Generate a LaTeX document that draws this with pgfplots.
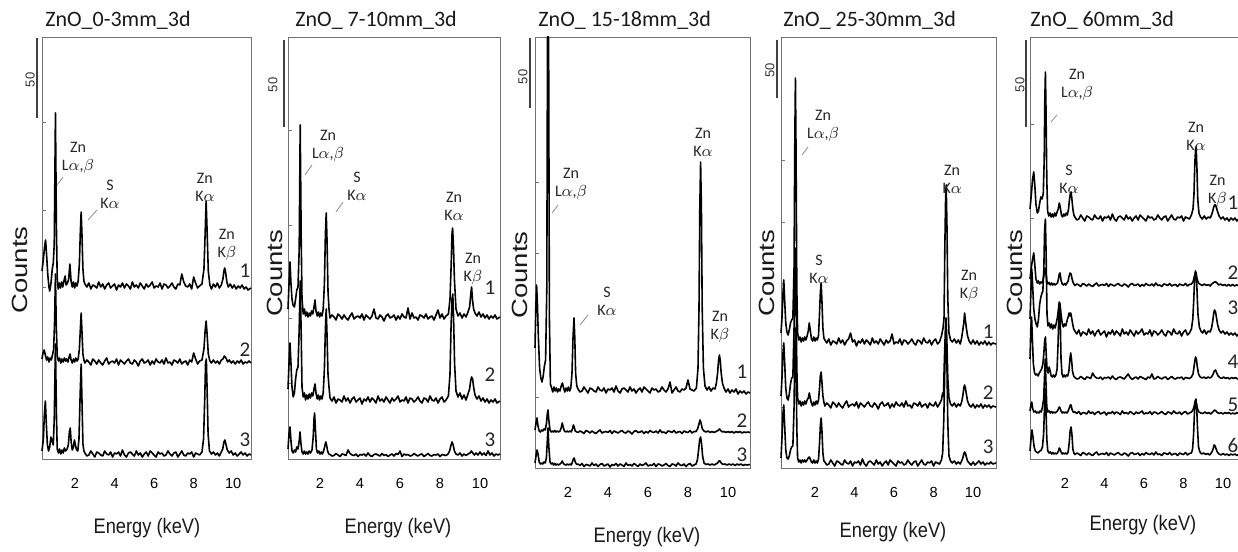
\documentclass[border=0pt]{standalone}
\usepackage{graphicx}
\usepackage{pgfplots}
\pgfplotsset{compat=1.18}
\usepackage{fontspec}
\setmainfont{Carlito}
\newfontfamily\arial{Liberation Sans}
\pgfplotsset{
  spec/.style={
    scale only axis, clip=false, ymin=0,
    axis line style={black!55, line width=0.45pt},
    xtick={2,4,6,8,10},
    xtick style={draw=none},
    ytick pos=left, tick align=inside,
    ytick style={black!55, line width=0.45pt},
    major tick length=2.2pt,
    yticklabels={},
    /pgf/number format/assume math mode=true,
    xticklabel style={font=\arial\fontsize{7.3}{8}\selectfont, yshift=-6pt, text=black},
  },
  tr/.style={black, line width=0.8pt, line join=round},
}
\tikzset{
  lab/.style={font=\fontsize{8}{9}\selectfont, align=center, text=black!85, inner sep=0pt},
  num/.style={font=\fontsize{10.5}{12}\selectfont, text=black!85, inner sep=0pt},
  sbar/.style={black!75, line width=1pt},
  ptr/.style={black!45, line width=0.4pt},
  fifty/.style={rotate=90, font=\arial\fontsize{6.5}{7}\selectfont, text=black!80},
  ttl/.style={anchor=west, font=\fontsize{11}{13}\selectfont, text=black!90, inner sep=0pt},
  cnt/.style={rotate=90, font=\arial\fontsize{11}{13}\selectfont, text=black!90, inner sep=0pt},
  enl/.style={font=\arial\fontsize{10.5}{12}\selectfont, text=black!90, inner sep=0pt},
}
\begin{document}
\begin{tikzpicture}
% ---------------- Panel 1 ----------------
\begin{axis}[spec, at={(21pt,46.5pt)}, anchor=south west, width=104.5pt, height=211pt,
  xmin=0.33, xmax=10.9, ymax=422, ytick={172,249,337}]
\addplot[tr] coordinates {(0.33,188)(0.40,200)(0.46,212)(0.51,219)(0.56,205)(0.62,185)(0.68,172)(0.72,168)(0.78,175)(0.85,190)(0.9,196)(0.95,215)(1.01,346)(1.06,230)(1.1,180)(1.15,170)(1.2,176)(1.26,171)(1.32,177)(1.38,172)(1.44,178)(1.5,183)(1.55,174)(1.62,176)(1.68,180)(1.74,195)(1.8,178)(1.86,172)(1.92,177)(1.98,171)(2.04,176)(2.1,173)(2.16,178)(2.22,195)(2.27,228)(2.31,247)(2.35,225)(2.4,190)(2.45,178)
(2.5,175)(2.6,172)(2.7,176)(2.8,170)(2.9,174)(3.0,173)(3.1,171)(3.2,177)(3.3,172)(3.4,175)(3.5,170)(3.6,174)(3.7,176)(3.8,171)(3.9,173)(4.0,175)(4.1,169)(4.2,174)(4.3,172)(4.4,176)(4.5,171)(4.6,175)(4.7,173)(4.8,170)(4.9,177)(5.0,172)(5.1,174)(5.2,171)(5.3,176)(5.4,173)(5.5,170)(5.6,175)(5.7,172)(5.8,174)(5.9,177)(6.0,171)(6.1,173)(6.2,172)(6.3,176)(6.4,170)(6.5,175)(6.6,174)(6.7,171)(6.8,173)(6.9,176)(7.0,172)(7.1,170)(7.2,175)(7.3,174)(7.4,185)(7.5,177)(7.6,173)(7.7,172)(7.8,175)(7.9,170)(8.0,182)(8.1,176)(8.2,171)(8.3,173)
(8.42,175)(8.52,190)(8.58,225)(8.63,258)(8.68,228)(8.74,188)(8.82,174)(8.9,170)(9.0,175)(9.1,172)(9.2,176)(9.3,171)(9.4,174)(9.48,180)(9.53,188)(9.57,191)(9.62,186)(9.68,177)(9.75,172)(9.85,175)(9.95,171)(10.05,174)(10.15,170)(10.25,173)(10.35,171)(10.45,174)(10.55,170)(10.65,172)(10.75,169)(10.9,171)};
\addplot[tr] coordinates {(0.33,100)(0.38,106)(0.44,109)(0.5,104)(0.56,99)(0.62,102)(0.68,97)(0.74,101)(0.8,99)(0.86,104)(0.92,110)(0.97,140)(1.01,185)(1.05,135)(1.1,103)(1.16,98)(1.22,101)(1.28,96)(1.34,100)(1.4,97)(1.46,101)(1.52,98)(1.58,100)(1.64,97)(1.7,102)(1.75,105)(1.8,99)(1.86,96)(1.92,100)(1.98,97)(2.04,101)(2.1,98)(2.16,100)(2.22,110)(2.27,130)(2.31,146)(2.35,128)(2.4,105)(2.45,99)
(2.5,96)(2.6,99)(2.7,97)(2.8,94)(2.9,100)(3.0,98)(3.1,95)(3.2,99)(3.3,96)(3.4,94)(3.5,98)(3.6,101)(3.7,95)(3.8,97)(3.9,98)(4.0,96)(4.1,100)(4.2,94)(4.3,99)(4.4,97)(4.5,95)(4.6,98)(4.7,100)(4.8,96)(4.9,95)(5.0,99)(5.1,97)(5.2,93)(5.3,98)(5.4,100)(5.5,96)(5.6,97)(5.7,99)(5.8,94)(5.9,98)(6.0,95)(6.1,100)(6.2,97)(6.3,96)(6.4,99)(6.5,95)(6.6,101)(6.7,96)(6.8,97)(6.9,94)(7.0,99)(7.1,98)(7.2,96)(7.3,100)(7.4,95)(7.5,97)(7.6,98)(7.7,94)(7.8,99)(7.9,97)(8.0,106)(8.1,100)(8.2,95)(8.3,98)
(8.42,99)(8.52,110)(8.58,128)(8.63,138)(8.68,125)(8.74,105)(8.82,98)(8.9,96)(9.0,99)(9.1,96)(9.2,98)(9.3,95)(9.4,99)(9.48,100)(9.55,103)(9.6,102)(9.66,100)(9.72,97)(9.8,99)(9.9,96)(10.0,98)(10.1,95)(10.2,98)(10.3,96)(10.4,99)(10.5,95)(10.6,97)(10.7,96)(10.8,98)(10.9,96)};
\addplot[tr] coordinates {(0.33,8)(0.4,20)(0.45,45)(0.5,58)(0.55,35)(0.6,15)(0.66,8)(0.72,12)(0.78,22)(0.84,18)(0.9,14)(0.95,40)(1.01,115)(1.06,45)(1.1,10)(1.16,6)(1.22,10)(1.28,5)(1.34,9)(1.4,6)(1.46,11)(1.52,8)(1.6,10)(1.66,14)(1.72,28)(1.76,31)(1.8,18)(1.86,9)(1.92,12)(1.97,19)(2.02,14)(2.08,9)(2.14,8)(2.2,20)(2.26,65)(2.31,95)(2.35,60)(2.4,15)(2.45,8)
(2.5,6)(2.6,3)(2.7,4)(2.8,8)(2.9,5)(3.0,2)(3.1,7)(3.2,6)(3.3,4)(3.4,3)(3.5,8)(3.6,5)(3.7,4)(3.8,7)(3.9,2)(4.0,6)(4.1,5)(4.2,7)(4.3,3)(4.4,9)(4.5,4)(4.6,2)(4.7,6)(4.8,7)(4.9,5)(5.0,3)(5.1,8)(5.2,4)(5.3,6)(5.4,2)(5.5,5)(5.6,7)(5.7,3)(5.8,8)(5.9,6)(6.0,4)(6.1,2)(6.2,7)(6.3,5)(6.4,6)(6.5,3)(6.6,4)(6.7,8)(6.8,5)(6.9,3)(7.0,6)(7.1,7)(7.2,2)(7.3,5)(7.4,8)(7.5,4)(7.6,3)(7.7,6)(7.8,5)(7.9,7)(8.0,2)(8.1,6)(8.2,5)(8.3,4)
(8.42,7)(8.5,20)(8.56,60)(8.6,95)(8.64,100)(8.68,70)(8.73,25)(8.8,8)(8.9,5)(9.0,7)(9.1,4)(9.2,6)(9.3,3)(9.4,7)(9.47,10)(9.53,17)(9.58,19)(9.64,14)(9.7,9)(9.8,6)(9.9,8)(10.0,4)(10.1,6)(10.2,3)(10.3,5)(10.4,7)(10.5,4)(10.6,6)(10.7,3)(10.8,5)(10.9,4)};
\draw[sbar] (axis cs:0.07,341) -- (axis cs:0.07,421);
\node[fifty] at (axis cs:-0.27,379) {50};
\node[ttl] at (rel axis cs:0.014,1.04) {ZnO\_0-3mm\_3d};
\node[cnt] at (rel axis cs:-0.105,0.448) {\scalebox{1.25}[1]{Counts}};
\node[enl] at (rel axis cs:0.502,-0.164) {\scalebox{0.87}[1]{Energy (keV)}};
\node[lab] at (axis cs:2.15,301) {Zn\\L$\alpha$,$\beta$};
\draw[ptr] (axis cs:1.09,274) -- (axis cs:1.40,282);
\node[lab] at (axis cs:3.77,265) {S\\K$\alpha$};
\draw[ptr] (axis cs:2.66,239) -- (axis cs:3.11,249);
\node[lab] at (axis cs:8.57,272) {Zn\\K$\alpha$};
\node[lab] at (axis cs:9.68,214) {Zn\\K$\beta$};
\node[num] at (axis cs:10.59,188) {1};
\node[num] at (axis cs:10.59,109) {2};
\node[num] at (axis cs:10.59,19) {3};
\end{axis}
% ---------------- Panel 2 ----------------
\begin{axis}[spec, at={(144pt,46.5pt)}, anchor=south west, width=106pt, height=211pt,
  xmin=0.4, xmax=11.0, ymax=422, ytick={76,141,234,329}]
\addplot[tr] coordinates {(0.4,150)(0.45,175)(0.5,197)(0.55,175)(0.6,160)(0.65,154)(0.72,152)(0.78,160)(0.84,169)(0.9,172)(0.96,210)(1.01,334)(1.06,220)(1.1,160)(1.16,145)(1.22,150)(1.28,143)(1.34,147)(1.4,142)(1.46,146)(1.52,143)(1.58,148)(1.64,145)(1.7,152)(1.75,159)(1.8,148)(1.86,143)(1.92,147)(1.98,142)(2.04,146)(2.1,143)(2.16,150)(2.22,175)(2.27,225)(2.31,246)(2.35,220)(2.4,168)(2.45,150)
(2.5,141)(2.6,144)(2.7,142)(2.8,139)(2.9,145)(3.0,143)(3.1,140)(3.2,144)(3.3,141)(3.4,139)(3.5,143)(3.6,146)(3.7,140)(3.8,142)(3.9,143)(4.0,141)(4.1,145)(4.2,139)(4.3,144)(4.4,142)(4.5,140)(4.6,143)(4.7,150)(4.8,141)(4.9,140)(5.0,144)(5.1,142)(5.2,138)(5.3,143)(5.4,145)(5.5,141)(5.6,142)(5.7,144)(5.8,139)(5.9,143)(6.0,140)(6.1,145)(6.2,142)(6.3,141)(6.4,151)(6.5,140)(6.6,146)(6.7,141)(6.8,142)(6.9,139)(7.0,144)(7.1,143)(7.2,141)(7.3,145)(7.4,140)(7.5,142)(7.6,143)(7.7,139)(7.8,144)(7.9,149)(8.0,141)(8.1,145)(8.2,140)(8.3,143)
(8.42,145)(8.5,160)(8.56,195)(8.6,225)(8.63,231)(8.67,215)(8.72,180)(8.8,150)(8.9,143)(9.0,146)(9.1,141)(9.2,145)(9.3,142)(9.4,147)(9.48,152)(9.54,165)(9.58,172)(9.62,160)(9.68,150)(9.75,146)(9.85,143)(9.95,147)(10.05,142)(10.15,145)(10.25,141)(10.35,144)(10.45,140)(10.55,143)(10.65,141)(10.75,144)(10.85,140)(11.0,142)};
\addplot[tr] coordinates {(0.4,70)(0.45,95)(0.5,116)(0.55,95)(0.6,72)(0.66,62)(0.72,66)(0.78,80)(0.84,89)(0.9,92)(0.96,130)(1.01,178)(1.06,125)(1.1,72)(1.16,62)(1.22,66)(1.28,59)(1.34,64)(1.4,60)(1.46,65)(1.52,61)(1.58,66)(1.64,63)(1.7,70)(1.75,75)(1.8,66)(1.86,60)(1.92,64)(1.98,59)(2.04,63)(2.1,60)(2.16,66)(2.22,90)(2.27,130)(2.31,150)(2.35,125)(2.4,85)(2.45,72)
(2.5,61)(2.6,58)(2.7,62)(2.8,56)(2.9,60)(3.0,59)(3.1,57)(3.2,63)(3.3,58)(3.4,61)(3.5,56)(3.6,60)(3.7,62)(3.8,57)(3.9,59)(4.0,61)(4.1,55)(4.2,60)(4.3,58)(4.4,62)(4.5,57)(4.6,61)(4.7,59)(4.8,56)(4.9,63)(5.0,58)(5.1,60)(5.2,57)(5.3,62)(5.4,59)(5.5,56)(5.6,61)(5.7,58)(5.8,60)(5.9,63)(6.0,57)(6.1,59)(6.2,58)(6.3,62)(6.4,56)(6.5,61)(6.6,60)(6.7,57)(6.8,59)(6.9,62)(7.0,58)(7.1,56)(7.2,61)(7.3,60)(7.4,57)(7.5,63)(7.6,59)(7.7,58)(7.8,61)(7.9,56)(8.0,60)(8.1,62)(8.2,57)(8.3,59)
(8.42,63)(8.5,85)(8.55,130)(8.6,160)(8.64,165)(8.68,140)(8.73,95)(8.8,68)(8.9,62)(9.0,66)(9.1,60)(9.2,64)(9.3,59)(9.4,65)(9.48,70)(9.53,78)(9.58,82)(9.63,80)(9.68,72)(9.75,64)(9.85,60)(9.95,63)(10.05,58)(10.15,61)(10.25,57)(10.35,60)(10.45,56)(10.55,59)(10.65,57)(10.75,60)(10.85,56)(11.0,58)};
\addplot[tr] coordinates {(0.4,10)(0.45,25)(0.5,32)(0.55,18)(0.6,8)(0.66,6)(0.72,9)(0.78,7)(0.84,12)(0.9,10)(0.96,18)(1.0,27)(1.05,15)(1.1,7)(1.16,5)(1.22,8)(1.28,5)(1.34,7)(1.4,5)(1.46,8)(1.52,6)(1.6,9)(1.66,22)(1.7,40)(1.73,46)(1.77,30)(1.82,10)(1.88,6)(1.94,8)(2.0,5)(2.06,7)(2.12,5)(2.18,8)(2.24,13)(2.29,17)(2.33,14)(2.38,8)(2.44,5)
(2.5,4.5)(2.6,3)(2.7,3.5)(2.8,5.5)(2.9,4)(3.0,2.5)(3.1,5)(3.2,4.5)(3.3,3.5)(3.4,9)(3.5,5.5)(3.6,4)(3.7,3.5)(3.8,5)(3.9,2.5)(4.0,4.5)(4.1,4)(4.2,5)(4.3,3)(4.4,6)(4.5,3.5)(4.6,2.5)(4.7,4.5)(4.8,5)(4.9,4)(5.0,3)(5.1,5.5)(5.2,3.5)(5.3,4.5)(5.4,2.5)(5.5,4)(5.6,5)(5.7,3)(5.8,5.5)(5.9,4.5)(6.0,8)(6.1,2.5)(6.2,5)(6.3,4)(6.4,4.5)(6.5,3)(6.6,3.5)(6.7,5.5)(6.8,4)(6.9,3)(7.0,4.5)(7.1,5)(7.2,2.5)(7.3,4)(7.4,5.5)(7.5,3.5)(7.6,3)(7.7,4.5)(7.8,4)(7.9,5)(8.0,2.5)(8.1,4.5)(8.2,4)(8.3,3.5)
(8.4,5)(8.48,8)(8.54,13)(8.6,17)(8.66,14)(8.72,8)(8.8,5)(8.9,4)(9.0,6)(9.1,3)(9.2,5)(9.3,3.5)(9.4,5)(9.5,6)(9.57,8)(9.64,6)(9.72,4)(9.8,6)(9.9,4)(10.0,7)(10.1,4)(10.2,6)(10.3,3.5)(10.4,8)(10.5,4)(10.6,6)(10.7,3)(10.8,5)(10.9,4)(11.0,5)};
\draw[sbar] (axis cs:0.215,332) -- (axis cs:0.215,419);
\node[fifty] at (axis cs:-0.35,374) {50};
\node[ttl] at (rel axis cs:0.033,1.04) {ZnO\_ 7-10mm\_3d};
\node[cnt] at (rel axis cs:-0.061,0.44) {\scalebox{1.25}[1]{Counts}};
\node[enl] at (rel axis cs:0.519,-0.164) {\scalebox{0.87}[1]{Energy (keV)}};
\node[lab] at (axis cs:2.4,313) {Zn\\L$\alpha$,$\beta$};
\draw[ptr] (axis cs:1.25,284) -- (axis cs:1.6,294);
\node[lab] at (axis cs:3.85,273) {S\\K$\alpha$};
\draw[ptr] (axis cs:2.8,247) -- (axis cs:3.15,257);
\node[lab] at (axis cs:8.7,253) {Zn\\K$\alpha$};
\node[lab] at (axis cs:9.65,190) {Zn\\K$\beta$};
\node[num] at (axis cs:10.5,171) {1};
\node[num] at (axis cs:10.5,84) {2};
\node[num] at (axis cs:10.5,19) {3};
\end{axis}
% ---------------- Panel 3 ----------------
\begin{axis}[spec, at={(267.5pt,42pt)}, anchor=south west, width=107.5pt, height=215.5pt,
  xmin=0.35, xmax=11.1, ymax=431, ytick={71,143,215,286}]
\addplot[tr] coordinates {(0.35,120)(0.39,160)(0.43,183)(0.47,165)(0.52,130)(0.58,100)(0.64,90)(0.7,86)(0.76,92)(0.82,102)(0.88,108)(0.94,180)(0.975,431)(1.0,431)(1.03,431)(1.07,150)(1.12,84)(1.18,80)(1.24,76)(1.3,81)(1.36,77)(1.42,80)(1.48,76)(1.54,79)(1.6,77)(1.66,82)(1.72,85)(1.78,80)(1.84,76)(1.9,80)(1.96,77)(2.02,81)(2.08,77)(2.14,80)(2.2,95)(2.25,130)(2.3,150)(2.34,130)(2.38,95)(2.44,82)
(2.5,79)(2.6,76)(2.7,77)(2.8,81)(2.9,78)(3.0,75)(3.1,80)(3.2,79)(3.3,77)(3.4,76)(3.5,81)(3.6,78)(3.7,77)(3.8,80)(3.9,75)(4.0,79)(4.1,78)(4.2,80)(4.3,76)(4.4,82)(4.5,77)(4.6,75)(4.7,79)(4.8,80)(4.9,78)(5.0,76)(5.1,81)(5.2,77)(5.3,79)(5.4,75)(5.5,78)(5.6,80)(5.7,76)(5.8,81)(5.9,79)(6.0,77)(6.1,75)(6.2,80)(6.3,78)(6.4,79)(6.5,76)(6.6,77)(6.7,81)(6.8,78)(6.9,76)(7.0,79)(7.1,86)(7.2,75)(7.3,78)(7.4,81)(7.5,77)(7.6,76)(7.7,79)(7.8,78)(7.9,80)(8.0,88)(8.1,79)(8.2,78)(8.3,77)
(8.42,80)(8.5,100)(8.55,160)(8.59,260)(8.63,306)(8.67,260)(8.71,160)(8.77,100)(8.85,82)(8.95,78)(9.05,81)(9.15,77)(9.25,80)(9.35,79)(9.42,85)(9.48,95)(9.53,108)(9.57,113)(9.61,108)(9.66,95)(9.72,85)(9.8,80)(9.9,76)(10.0,79)(10.1,75)(10.2,78)(10.3,76)(10.4,79)(10.5,74)(10.6,77)(10.7,75)(10.8,77)(10.9,74)(11.0,76)(11.1,75)};
\addplot[tr] coordinates {(0.35,38)(0.4,45)(0.45,50)(0.5,42)(0.56,37)(0.62,36)(0.68,38)(0.74,37)(0.8,39)(0.86,38)(0.92,44)(0.97,55)(1.0,58)(1.04,48)(1.1,38)(1.16,36)(1.22,37)(1.28,36)(1.34,37.5)(1.4,36)(1.46,37)(1.52,36)(1.6,37)(1.66,40)(1.71,45)(1.76,41)(1.82,37)(1.9,36)(1.96,37)(2.02,36)(2.1,37)(2.16,36)(2.22,39)(2.27,43)(2.31,41)(2.36,37)(2.44,36)
(2.5,35.5)(2.6,37)(2.7,36)(2.8,34.5)(2.9,37.5)(3.0,36.5)(3.1,35)(3.2,37)(3.3,35.5)(3.4,34.5)(3.5,36.5)(3.6,38)(3.7,35)(3.8,36)(3.9,36.5)(4.0,35.5)(4.1,37.5)(4.2,34.5)(4.3,37)(4.4,36)(4.5,35)(4.6,36.5)(4.7,37.5)(4.8,35.5)(4.9,35)(5.0,37)(5.1,36)(5.2,34)(5.3,36.5)(5.4,37.5)(5.5,35.5)(5.6,36)(5.7,37)(5.8,34.5)(5.9,36.5)(6.0,35)(6.1,37.5)(6.2,36)(6.3,35.5)(6.4,37)(6.5,35)(6.6,38)(6.7,35.5)(6.8,36)(6.9,34.5)(7.0,37)(7.1,36.5)(7.2,35.5)(7.3,37.5)(7.4,35)(7.5,36)(7.6,36.5)(7.7,34.5)(7.8,37)(7.9,36)(8.0,35.5)(8.1,37.5)(8.2,35)(8.3,36.5)
(8.4,36.5)(8.48,39)(8.55,44)(8.6,48)(8.65,45)(8.72,39)(8.8,37)(8.9,36)(9.0,37)(9.1,35.5)(9.2,36.5)(9.3,35.5)(9.4,36.5)(9.5,37.5)(9.57,39)(9.64,37.5)(9.72,36)(9.8,36.5)(9.9,35.5)(10.0,36.5)(10.1,35.5)(10.2,36.5)(10.3,35)(10.4,36.5)(10.5,35.5)(10.6,36.5)(10.7,35)(10.8,36)(10.9,35.5)(11.0,36)(11.1,35.5)};
\addplot[tr] coordinates {(0.35,5)(0.4,12)(0.45,18)(0.5,14)(0.56,6)(0.62,4)(0.68,5)(0.74,4)(0.8,6)(0.86,5)(0.92,10)(0.96,25)(1.0,40)(1.04,22)(1.1,6)(1.16,4)(1.22,5)(1.28,3)(1.34,4.5)(1.4,3)(1.46,4)(1.52,3)(1.6,4)(1.66,5)(1.71,7)(1.76,5)(1.82,3.5)(1.9,3)(1.96,4)(2.02,3)(2.1,4)(2.16,3)(2.22,6)(2.27,9)(2.31,10)(2.36,6)(2.44,3.5)
(2.5,4)(2.6,2.5)(2.7,4.5)(2.8,1.5)(2.9,3.5)(3.0,3)(3.1,2)(3.2,5)(3.3,2.5)(3.4,4)(3.5,1.5)(3.6,3.5)(3.7,4.5)(3.8,2)(3.9,3)(4.0,4)(4.1,1)(4.2,3.5)(4.3,2.5)(4.4,4.5)(4.5,2)(4.6,4)(4.7,3)(4.8,1.5)(4.9,5)(5.0,2.5)(5.1,3.5)(5.2,2)(5.3,4.5)(5.4,3)(5.5,1.5)(5.6,4)(5.7,2.5)(5.8,3.5)(5.9,5)(6.0,2)(6.1,3)(6.2,2.5)(6.3,4.5)(6.4,1.5)(6.5,4)(6.6,3.5)(6.7,2)(6.8,3)(6.9,4.5)(7.0,2.5)(7.1,1.5)(7.2,4)(7.3,3.5)(7.4,2)(7.5,5)(7.6,3)(7.7,2.5)(7.8,4)(7.9,1.5)(8.0,3.5)(8.1,4.5)(8.2,2)(8.3,3)
(8.4,4)(8.47,8)(8.53,18)(8.58,28)(8.63,31)(8.68,24)(8.73,12)(8.8,5)(8.9,3.5)(9.0,4)(9.1,3)(9.2,4)(9.3,3)(9.4,4)(9.48,5)(9.55,7)(9.6,7)(9.66,5)(9.75,3.5)(9.85,4)(9.95,3)(10.05,4)(10.15,3)(10.25,4)(10.35,2.5)(10.45,4)(10.55,3)(10.65,4)(10.75,2.5)(10.85,3.5)(10.95,3)(11.1,3.5)};
\draw[sbar] (axis cs:0.1,360) -- (axis cs:0.1,430);
\node[fifty] at (axis cs:-0.25,391) {50};
\node[ttl] at (rel axis cs:0.014,1.039) {ZnO\_ 15-18mm\_3d};
\node[cnt] at (rel axis cs:-0.07,0.448) {\scalebox{1.25}[1]{Counts}};
\node[enl] at (rel axis cs:0.521,-0.16) {\scalebox{0.87}[1]{Energy (keV)}};
\node[lab] at (axis cs:2.15,284) {Zn\\L$\alpha$,$\beta$};
\draw[ptr] (axis cs:1.2,255) -- (axis cs:1.5,263);
\node[lab] at (axis cs:3.95,167) {S\\K$\alpha$};
\draw[ptr] (axis cs:2.6,143) -- (axis cs:3.0,153);
\node[lab] at (axis cs:8.75,326) {Zn\\K$\alpha$};
\node[lab] at (axis cs:9.6,141) {Zn\\K$\beta$};
\node[num] at (axis cs:10.7,96) {1};
\node[num] at (axis cs:10.7,47) {2};
\node[num] at (axis cs:10.7,13) {3};
\end{axis}
% ---------------- Panel 4 ----------------
\begin{axis}[spec, at={(390.5pt,42pt)}, anchor=south west, width=107.5pt, height=215.5pt,
  xmin=0.28, xmax=11.16, ymax=431, ytick={61,123,185,246,308}]
\addplot[tr] coordinates {(0.28,135)(0.33,150)(0.38,175)(0.42,188)(0.46,170)(0.52,145)(0.58,136)(0.64,133)(0.7,138)(0.76,145)(0.82,148)(0.88,150)(0.94,200)(0.98,330)(1.01,390)(1.04,320)(1.08,180)(1.12,135)(1.18,128)(1.24,131)(1.3,126)(1.36,130)(1.42,127)(1.48,131)(1.54,128)(1.6,132)(1.66,137)(1.71,145)(1.76,138)(1.82,129)(1.88,127)(1.94,131)(2.0,127)(2.06,130)(2.12,128)(2.18,133)(2.23,155)(2.27,175)(2.31,185)(2.35,168)(2.4,140)(2.45,130)
(2.5,128)(2.6,125)(2.7,129)(2.8,123)(2.9,127)(3.0,126)(3.1,124)(3.2,130)(3.3,125)(3.4,128)(3.5,123)(3.6,127)(3.7,129)(3.8,135)(3.9,126)(4.0,128)(4.1,122)(4.2,127)(4.3,125)(4.4,129)(4.5,124)(4.6,128)(4.7,126)(4.8,123)(4.9,130)(5.0,125)(5.1,127)(5.2,124)(5.3,129)(5.4,126)(5.5,123)(5.6,128)(5.7,125)(5.8,127)(5.9,134)(6.0,124)(6.1,126)(6.2,125)(6.3,129)(6.4,123)(6.5,128)(6.6,127)(6.7,124)(6.8,126)(6.9,129)(7.0,125)(7.1,123)(7.2,128)(7.3,127)(7.4,124)(7.5,130)(7.6,126)(7.7,125)(7.8,128)(7.9,123)(8.0,127)(8.1,129)(8.2,124)(8.3,126)
(8.4,132)(8.48,140)(8.53,150)(8.57,220)(8.61,270)(8.64,283)(8.68,240)(8.72,170)(8.78,135)(8.86,128)(8.95,126)(9.05,129)(9.15,125)(9.25,128)(9.35,124)(9.42,130)(9.48,138)(9.53,145)(9.57,155)(9.61,148)(9.66,140)(9.72,132)(9.8,127)(9.9,124)(10.0,128)(10.1,124)(10.2,127)(10.3,123)(10.4,126)(10.5,124)(10.6,127)(10.7,123)(10.8,126)(10.9,123)(11.0,125)(11.16,124)};
\addplot[tr] coordinates {(0.28,72)(0.33,90)(0.38,115)(0.42,125)(0.46,108)(0.52,80)(0.58,70)(0.64,68)(0.7,74)(0.76,84)(0.82,90)(0.88,91)(0.94,140)(0.98,195)(1.01,220)(1.04,180)(1.08,100)(1.12,70)(1.18,64)(1.24,67)(1.3,62)(1.36,66)(1.42,63)(1.48,67)(1.54,64)(1.6,68)(1.66,70)(1.71,75)(1.76,70)(1.82,65)(1.88,62)(1.94,66)(2.0,63)(2.06,67)(2.12,64)(2.18,68)(2.23,80)(2.27,92)(2.31,96)(2.35,86)(2.4,72)(2.45,66)
(2.5,62)(2.6,65)(2.7,63)(2.8,60)(2.9,66)(3.0,64)(3.1,61)(3.2,65)(3.3,62)(3.4,60)(3.5,64)(3.6,67)(3.7,61)(3.8,63)(3.9,64)(4.0,62)(4.1,66)(4.2,60)(4.3,65)(4.4,63)(4.5,61)(4.6,64)(4.7,66)(4.8,62)(4.9,61)(5.0,65)(5.1,63)(5.2,59)(5.3,64)(5.4,66)(5.5,62)(5.6,63)(5.7,65)(5.8,60)(5.9,64)(6.0,61)(6.1,66)(6.2,63)(6.3,62)(6.4,65)(6.5,61)(6.6,67)(6.7,62)(6.8,63)(6.9,60)(7.0,65)(7.1,64)(7.2,62)(7.3,66)(7.4,61)(7.5,63)(7.6,64)(7.7,60)(7.8,65)(7.9,63)(8.0,62)(8.1,66)(8.2,61)(8.3,64)
(8.4,68)(8.46,75)(8.5,72)(8.55,110)(8.6,140)(8.63,150)(8.67,130)(8.72,90)(8.78,70)(8.86,64)(8.95,62)(9.05,65)(9.15,61)(9.25,64)(9.35,62)(9.42,66)(9.48,72)(9.53,80)(9.57,83)(9.61,80)(9.66,74)(9.72,67)(9.8,63)(9.9,61)(10.0,64)(10.1,60)(10.2,63)(10.3,61)(10.4,64)(10.5,60)(10.6,63)(10.7,61)(10.8,63)(10.9,60)(11.0,62)(11.16,61)};
\addplot[tr] coordinates {(0.28,10)(0.33,30)(0.38,55)(0.42,63)(0.46,45)(0.52,18)(0.58,10)(0.64,9)(0.7,12)(0.76,18)(0.82,21)(0.88,22)(0.94,60)(0.98,120)(1.01,140)(1.04,110)(1.08,40)(1.12,10)(1.18,6)(1.24,8)(1.3,5)(1.36,8)(1.42,6)(1.48,8)(1.54,6)(1.6,8)(1.66,10)(1.71,11)(1.76,9)(1.82,6)(1.88,5)(1.94,8)(2.0,5)(2.06,7)(2.12,5)(2.18,9)(2.23,25)(2.27,42)(2.31,50)(2.35,38)(2.4,15)(2.45,7)
(2.5,6)(2.6,3)(2.7,4)(2.8,8)(2.9,5)(3.0,2)(3.1,7)(3.2,6)(3.3,4)(3.4,3)(3.5,8)(3.6,5)(3.7,4)(3.8,7)(3.9,2)(4.0,6)(4.1,5)(4.2,7)(4.3,3)(4.4,9)(4.5,4)(4.6,2)(4.7,6)(4.8,7)(4.9,5)(5.0,3)(5.1,8)(5.2,4)(5.3,6)(5.4,2)(5.5,5)(5.6,7)(5.7,3)(5.8,8)(5.9,6)(6.0,4)(6.1,2)(6.2,7)(6.3,5)(6.4,6)(6.5,3)(6.6,4)(6.7,8)(6.8,5)(6.9,3)(7.0,6)(7.1,7)(7.2,2)(7.3,5)(7.4,8)(7.5,4)(7.6,3)(7.7,6)(7.8,5)(7.9,7)(8.0,2)(8.1,6)(8.2,5)(8.3,4)
(8.4,8)(8.46,15)(8.52,50)(8.57,100)(8.61,128)(8.64,130)(8.68,100)(8.72,45)(8.78,12)(8.86,7)(8.95,5)(9.05,7)(9.15,4)(9.25,6)(9.35,4)(9.42,7)(9.48,10)(9.53,14)(9.57,16)(9.61,15)(9.66,11)(9.72,7)(9.8,5)(9.9,3)(10.0,6)(10.1,3)(10.2,5)(10.3,7)(10.4,4)(10.5,6)(10.6,3)(10.7,5)(10.8,4)(10.9,6)(11.0,4)(11.16,5)};
\draw[sbar] (axis cs:0.076,370) -- (axis cs:0.076,428);
\node[fifty] at (axis cs:-0.28,398) {50};
\node[ttl] at (rel axis cs:0.009,1.039) {ZnO\_ 25-30mm\_3d};
\node[cnt] at (rel axis cs:-0.065,0.452) {\scalebox{1.25}[1]{Counts}};
\node[enl] at (rel axis cs:0.521,-0.148) {\scalebox{0.87}[1]{Energy (keV)}};
\node[lab] at (axis cs:2.41,342) {Zn\\L$\alpha$,$\beta$};
\draw[ptr] (axis cs:1.34,313) -- (axis cs:1.65,321);
\node[lab] at (axis cs:2.2,199) {S\\K$\alpha$};
\node[lab] at (axis cs:8.94,289) {Zn\\K$\alpha$};
\node[lab] at (axis cs:9.8,182) {Zn\\K$\beta$};
\node[num] at (axis cs:10.76,136) {1};
\node[num] at (axis cs:10.76,75) {2};
\node[num] at (axis cs:10.76,21) {3};
\end{axis}
% ---------------- Panel 5 ----------------
\begin{axis}[spec, at={(515pt,46.5pt)}, anchor=south west, width=106pt, height=211pt,
  xmin=0.23, xmax=10.96, ymax=422, ytick={241,335}]
\addplot[tr] coordinates {(0.23,250)(0.3,265)(0.36,280)(0.42,287)(0.47,275)(0.53,255)(0.6,246)(0.66,248)(0.72,256)(0.78,262)(0.84,260)(0.9,265)(0.95,300)(0.98,360)(1.01,387)(1.04,350)(1.08,280)(1.12,248)(1.18,243)(1.24,246)(1.3,242)(1.36,245)(1.42,242)(1.48,246)(1.54,243)(1.6,247)(1.66,250)(1.71,256)(1.76,252)(1.82,244)(1.88,242)(1.94,245)(2.0,243)(2.06,246)(2.12,244)(2.18,250)(2.23,260)(2.27,265)(2.31,267)(2.35,260)(2.4,250)(2.45,244)
(2.5,242)(2.6,239)(2.7,240)(2.8,244)(2.9,241)(3.0,238)(3.1,243)(3.2,242)(3.3,240)(3.4,239)(3.5,244)(3.6,241)(3.7,240)(3.8,243)(3.9,238)(4.0,242)(4.1,241)(4.2,243)(4.3,239)(4.4,245)(4.5,240)(4.6,238)(4.7,242)(4.8,243)(4.9,241)(5.0,239)(5.1,244)(5.2,240)(5.3,242)(5.4,238)(5.5,241)(5.6,243)(5.7,239)(5.8,244)(5.9,242)(6.0,240)(6.1,238)(6.2,243)(6.3,241)(6.4,242)(6.5,239)(6.6,240)(6.7,244)(6.8,241)(6.9,239)(7.0,242)(7.1,243)(7.2,238)(7.3,241)(7.4,244)(7.5,240)(7.6,239)(7.7,242)(7.8,241)(7.9,243)(8.0,238)(8.1,242)(8.2,241)(8.3,240)
(8.4,244)(8.48,250)(8.53,265)(8.57,295)(8.61,310)(8.64,312)(8.68,290)(8.72,260)(8.78,246)(8.86,242)(8.95,240)(9.05,243)(9.15,240)(9.25,242)(9.35,241)(9.42,244)(9.48,248)(9.53,252)(9.57,254)(9.62,254)(9.67,251)(9.73,247)(9.8,243)(9.9,240)(10.0,242)(10.1,239)(10.2,241)(10.3,238)(10.4,241)(10.5,239)(10.6,241)(10.7,238)(10.8,240)(10.96,239)};
\addplot[tr] coordinates {(0.23,180)(0.3,192)(0.36,200)(0.42,206)(0.47,195)(0.53,180)(0.6,176)(0.66,178)(0.72,175)(0.78,177)(0.84,176)(0.9,180)(0.95,186)(0.98,190)(1.01,191)(1.04,185)(1.08,178)(1.14,175)(1.2,176.5)(1.26,174)(1.32,176)(1.38,174)(1.44,175.5)(1.5,174)(1.56,175)(1.62,176)(1.67,180)(1.71,185)(1.75,186)(1.8,179)(1.86,175)(1.92,174)(1.98,175.5)(2.04,174)(2.1,176)(2.16,178)(2.21,183)(2.26,186)(2.31,185)(2.36,180)(2.42,176)
(2.5,173.5)(2.6,175)(2.7,174)(2.8,172.5)(2.9,175.5)(3.0,174.5)(3.1,173)(3.2,175)(3.3,173.5)(3.4,172.5)(3.5,174.5)(3.6,176)(3.7,173)(3.8,174)(3.9,174.5)(4.0,173.5)(4.1,175.5)(4.2,172.5)(4.3,175)(4.4,174)(4.5,173)(4.6,174.5)(4.7,175.5)(4.8,173.5)(4.9,173)(5.0,175)(5.1,174)(5.2,172)(5.3,174.5)(5.4,175.5)(5.5,173.5)(5.6,174)(5.7,175)(5.8,172.5)(5.9,174.5)(6.0,173)(6.1,175.5)(6.2,174)(6.3,173.5)(6.4,175)(6.5,173)(6.6,176)(6.7,173.5)(6.8,174)(6.9,172.5)(7.0,175)(7.1,174.5)(7.2,173.5)(7.3,175.5)(7.4,173)(7.5,174)(7.6,174.5)(7.7,172.5)(7.8,175)(7.9,174)(8.0,173.5)(8.1,175.5)(8.2,173)(8.3,174.5)
(8.4,175)(8.48,177)(8.54,182)(8.59,186)(8.63,186)(8.68,181)(8.75,176)(8.85,174.5)(8.95,173.5)(9.05,175)(9.15,173.5)(9.25,174.5)(9.35,173)(9.42,175)(9.5,176)(9.57,177)(9.64,177)(9.7,176)(9.78,174)(9.88,175)(9.98,173.5)(10.08,174.5)(10.18,173)(10.28,174.5)(10.38,173)(10.48,174.5)(10.58,173)(10.68,174)(10.78,173.5)(10.96,174)};
\addplot[tr] coordinates {(0.23,140)(0.28,170)(0.32,190)(0.36,175)(0.42,150)(0.48,140)(0.54,135)(0.6,132)(0.66,140)(0.72,155)(0.78,162)(0.84,166)(0.88,168)(0.93,190)(0.97,230)(1.01,240)(1.05,200)(1.09,145)(1.14,133)(1.2,136)(1.26,131)(1.32,135)(1.38,130)(1.44,134)(1.5,131)(1.56,136)(1.62,142)(1.67,150)(1.71,157)(1.75,155)(1.8,145)(1.86,136)(1.92,132)(1.98,135)(2.04,133)(2.1,138)(2.16,142)(2.21,146)(2.25,143)(2.29,146)(2.33,142)(2.38,136)(2.44,130)
(2.5,128)(2.6,125)(2.7,129)(2.8,123)(2.9,127)(3.0,126)(3.1,124)(3.2,130)(3.3,125)(3.4,128)(3.5,123)(3.6,127)(3.7,129)(3.8,124)(3.9,126)(4.0,128)(4.1,122)(4.2,127)(4.3,125)(4.4,129)(4.5,124)(4.6,128)(4.7,126)(4.8,123)(4.9,130)(5.0,125)(5.1,127)(5.2,124)(5.3,129)(5.4,126)(5.5,123)(5.6,128)(5.7,125)(5.8,127)(5.9,130)(6.0,124)(6.1,126)(6.2,125)(6.3,129)(6.4,123)(6.5,128)(6.6,127)(6.7,124)(6.8,126)(6.9,129)(7.0,125)(7.1,123)(7.2,128)(7.3,127)(7.4,124)(7.5,130)(7.6,126)(7.7,125)(7.8,128)(7.9,123)(8.0,127)(8.1,129)(8.2,124)(8.3,126)
(8.4,130)(8.47,140)(8.52,160)(8.56,180)(8.6,188)(8.64,186)(8.68,170)(8.73,145)(8.8,132)(8.88,128)(8.96,126)(9.05,129)(9.15,125)(9.25,128)(9.35,127)(9.42,131)(9.48,138)(9.53,146)(9.57,149)(9.62,147)(9.67,141)(9.73,134)(9.8,129)(9.9,126)(10.0,128)(10.1,125)(10.2,127)(10.3,124)(10.4,126)(10.5,124)(10.6,126)(10.7,123)(10.8,125)(10.96,124)};
\addplot[tr] coordinates {(0.23,100)(0.27,130)(0.31,142)(0.35,120)(0.4,95)(0.46,86)(0.52,84)(0.58,85)(0.64,83)(0.7,86)(0.76,88)(0.82,90)(0.88,95)(0.93,105)(0.97,118)(1.01,122)(1.05,105)(1.1,88)(1.15,86)(1.2,92)(1.25,88)(1.3,83)(1.36,82)(1.42,84)(1.48,82)(1.54,84)(1.6,90)(1.65,115)(1.69,145)(1.72,155)(1.76,140)(1.8,100)(1.85,85)(1.9,82)(1.96,84)(2.02,82)(2.08,84)(2.14,83)(2.2,88)(2.25,100)(2.29,106)(2.33,100)(2.38,88)(2.44,83)
(2.5,81.5)(2.6,80)(2.7,80.5)(2.8,82.5)(2.9,81)(3.0,79.5)(3.1,82)(3.2,81.5)(3.3,80.5)(3.4,86)(3.5,82.5)(3.6,81)(3.7,80.5)(3.8,82)(3.9,79.5)(4.0,81.5)(4.1,81)(4.2,82)(4.3,80)(4.4,83)(4.5,80.5)(4.6,79.5)(4.7,81.5)(4.8,82)(4.9,81)(5.0,80)(5.1,82.5)(5.2,85)(5.3,81.5)(5.4,79.5)(5.5,81)(5.6,82)(5.7,80)(5.8,82.5)(5.9,81.5)(6.0,80.5)(6.1,79.5)(6.2,82)(6.3,81)(6.4,85)(6.5,80)(6.6,80.5)(6.7,82.5)(6.8,81)(6.9,80)(7.0,81.5)(7.1,82)(7.2,79.5)(7.3,81)(7.4,82.5)(7.5,80.5)(7.6,80)(7.7,81.5)(7.8,81)(7.9,82)(8.0,79.5)(8.1,81.5)(8.2,81)(8.3,80.5)
(8.4,82)(8.48,85)(8.53,92)(8.57,98)(8.61,102)(8.65,100)(8.7,92)(8.76,85)(8.84,82)(8.94,81)(9.04,82)(9.14,80.5)(9.24,82)(9.34,81)(9.42,82)(9.5,85)(9.56,88)(9.62,89)(9.68,86)(9.75,83)(9.83,81.5)(9.93,80.5)(10.03,82)(10.13,80.5)(10.23,81.5)(10.33,80)(10.43,81.5)(10.53,80.5)(10.63,81.5)(10.73,80)(10.83,81)(10.96,80.5)};
\addplot[tr] coordinates {(0.23,48)(0.28,55)(0.32,57)(0.37,50)(0.43,47)(0.5,48)(0.56,46)(0.62,47)(0.68,46)(0.74,48)(0.8,47)(0.86,52)(0.92,60)(0.96,80)(1.0,100)(1.04,75)(1.08,52)(1.14,47)(1.2,48)(1.26,46)(1.32,47.5)(1.38,46)(1.44,47)(1.5,46)(1.56,47)(1.62,48)(1.67,50)(1.71,52)(1.75,51)(1.8,48)(1.86,46)(1.92,47)(1.98,46)(2.04,47)(2.1,46)(2.16,48)(2.22,51)(2.27,54)(2.31,54)(2.35,50)(2.41,47)
(2.5,47)(2.6,45.5)(2.7,47.5)(2.8,44.5)(2.9,46.5)(3.0,46)(3.1,45)(3.2,48)(3.3,45.5)(3.4,47)(3.5,44.5)(3.6,46.5)(3.7,47.5)(3.8,45)(3.9,46)(4.0,47)(4.1,44)(4.2,46.5)(4.3,45.5)(4.4,47.5)(4.5,45)(4.6,47)(4.7,46)(4.8,44.5)(4.9,48)(5.0,45.5)(5.1,46.5)(5.2,45)(5.3,47.5)(5.4,46)(5.5,44.5)(5.6,47)(5.7,45.5)(5.8,46.5)(5.9,48)(6.0,45)(6.1,46)(6.2,45.5)(6.3,47.5)(6.4,44.5)(6.5,47)(6.6,46.5)(6.7,45)(6.8,46)(6.9,47.5)(7.0,45.5)(7.1,44.5)(7.2,47)(7.3,46.5)(7.4,45)(7.5,48)(7.6,46)(7.7,45.5)(7.8,47)(7.9,44.5)(8.0,46.5)(8.1,47.5)(8.2,45)(8.3,46)
(8.4,47)(8.48,49)(8.54,53)(8.58,57)(8.62,58)(8.66,55)(8.71,50)(8.78,47)(8.88,46)(8.98,45.5)(9.08,47)(9.18,45.5)(9.28,46.5)(9.38,45)(9.46,46.5)(9.53,48)(9.58,49)(9.64,48)(9.71,46.5)(9.8,45.5)(9.9,46.5)(10.0,45)(10.1,46.5)(10.2,45.5)(10.3,46.5)(10.4,45)(10.5,46)(10.6,45)(10.7,46.5)(10.8,45.5)(10.96,46)};
\addplot[tr] coordinates {(0.23,8)(0.28,20)(0.33,29)(0.38,22)(0.44,12)(0.5,8)(0.56,7)(0.62,6)(0.68,7)(0.74,8)(0.8,9)(0.86,12)(0.92,25)(0.96,50)(1.0,70)(1.04,50)(1.08,20)(1.13,8)(1.2,6)(1.26,7)(1.32,5)(1.38,6.5)(1.44,5)(1.5,6)(1.56,5)(1.62,6)(1.67,8)(1.71,11)(1.75,10)(1.8,7)(1.86,5)(1.92,6)(1.98,5)(2.04,6)(2.1,5)(2.16,7)(2.21,15)(2.26,28)(2.31,32)(2.35,25)(2.4,10)(2.45,6)
(2.5,4.5)(2.6,6)(2.7,5)(2.8,3.5)(2.9,6.5)(3.0,5.5)(3.1,4)(3.2,6)(3.3,4.5)(3.4,3.5)(3.5,5.5)(3.6,7)(3.7,4)(3.8,5)(3.9,5.5)(4.0,4.5)(4.1,6.5)(4.2,3.5)(4.3,6)(4.4,5)(4.5,4)(4.6,5.5)(4.7,6.5)(4.8,4.5)(4.9,4)(5.0,6)(5.1,5)(5.2,3)(5.3,5.5)(5.4,6.5)(5.5,4.5)(5.6,5)(5.7,6)(5.8,3.5)(5.9,5.5)(6.0,4)(6.1,6.5)(6.2,5)(6.3,4.5)(6.4,6)(6.5,4)(6.6,7)(6.7,4.5)(6.8,5)(6.9,3.5)(7.0,6)(7.1,5.5)(7.2,4.5)(7.3,6.5)(7.4,4)(7.5,5)(7.6,5.5)(7.7,3.5)(7.8,6)(7.9,5)(8.0,4.5)(8.1,6.5)(8.2,4)(8.3,5.5)
(8.4,6)(8.46,10)(8.51,25)(8.55,45)(8.59,58)(8.63,60)(8.67,50)(8.71,30)(8.76,12)(8.83,7)(8.92,5)(9.02,6)(9.12,4.5)(9.22,5.5)(9.32,4)(9.4,6)(9.46,8)(9.51,11)(9.55,14)(9.6,13)(9.65,10)(9.71,7)(9.8,5)(9.9,4)(10.0,5.5)(10.1,4)(10.2,5)(10.3,3.5)(10.4,5)(10.5,4)(10.6,5)(10.7,3.5)(10.8,5)(10.96,4.5)};
\draw[sbar] (axis cs:0.025,332) -- (axis cs:0.025,419);
\node[fifty] at (axis cs:-0.28,374) {50};
\node[ttl] at (rel axis cs:0.0,1.04) {ZnO\_ 60mm\_3d};
\node[cnt] at (rel axis cs:-0.071,0.44) {\scalebox{1.25}[1]{Counts}};
\node[enl] at (rel axis cs:0.533,-0.156) {\scalebox{0.87}[1]{Energy (keV)}};
\node[lab] at (axis cs:2.61,374) {Zn\\L$\alpha$,$\beta$};
\draw[ptr] (axis cs:1.29,337) -- (axis cs:1.59,344);
\node[lab] at (axis cs:2.2,280) {S\\K$\alpha$};
\node[lab] at (axis cs:8.63,323) {Zn\\K$\alpha$};
\node[lab] at (axis cs:9.72,268) {Zn\\K$\beta$};
\node[num] at (axis cs:10.5,256) {1};
\node[num] at (axis cs:10.5,186) {2};
\node[num] at (axis cs:10.5,151) {3};
\node[num] at (axis cs:10.5,97) {4};
\node[num] at (axis cs:10.5,54) {5};
\node[num] at (axis cs:10.5,14) {6};
\end{axis}
\pgfresetboundingbox
\path[use as bounding box] (0pt,0pt) rectangle (619pt,276pt);
\end{tikzpicture}
\end{document}
